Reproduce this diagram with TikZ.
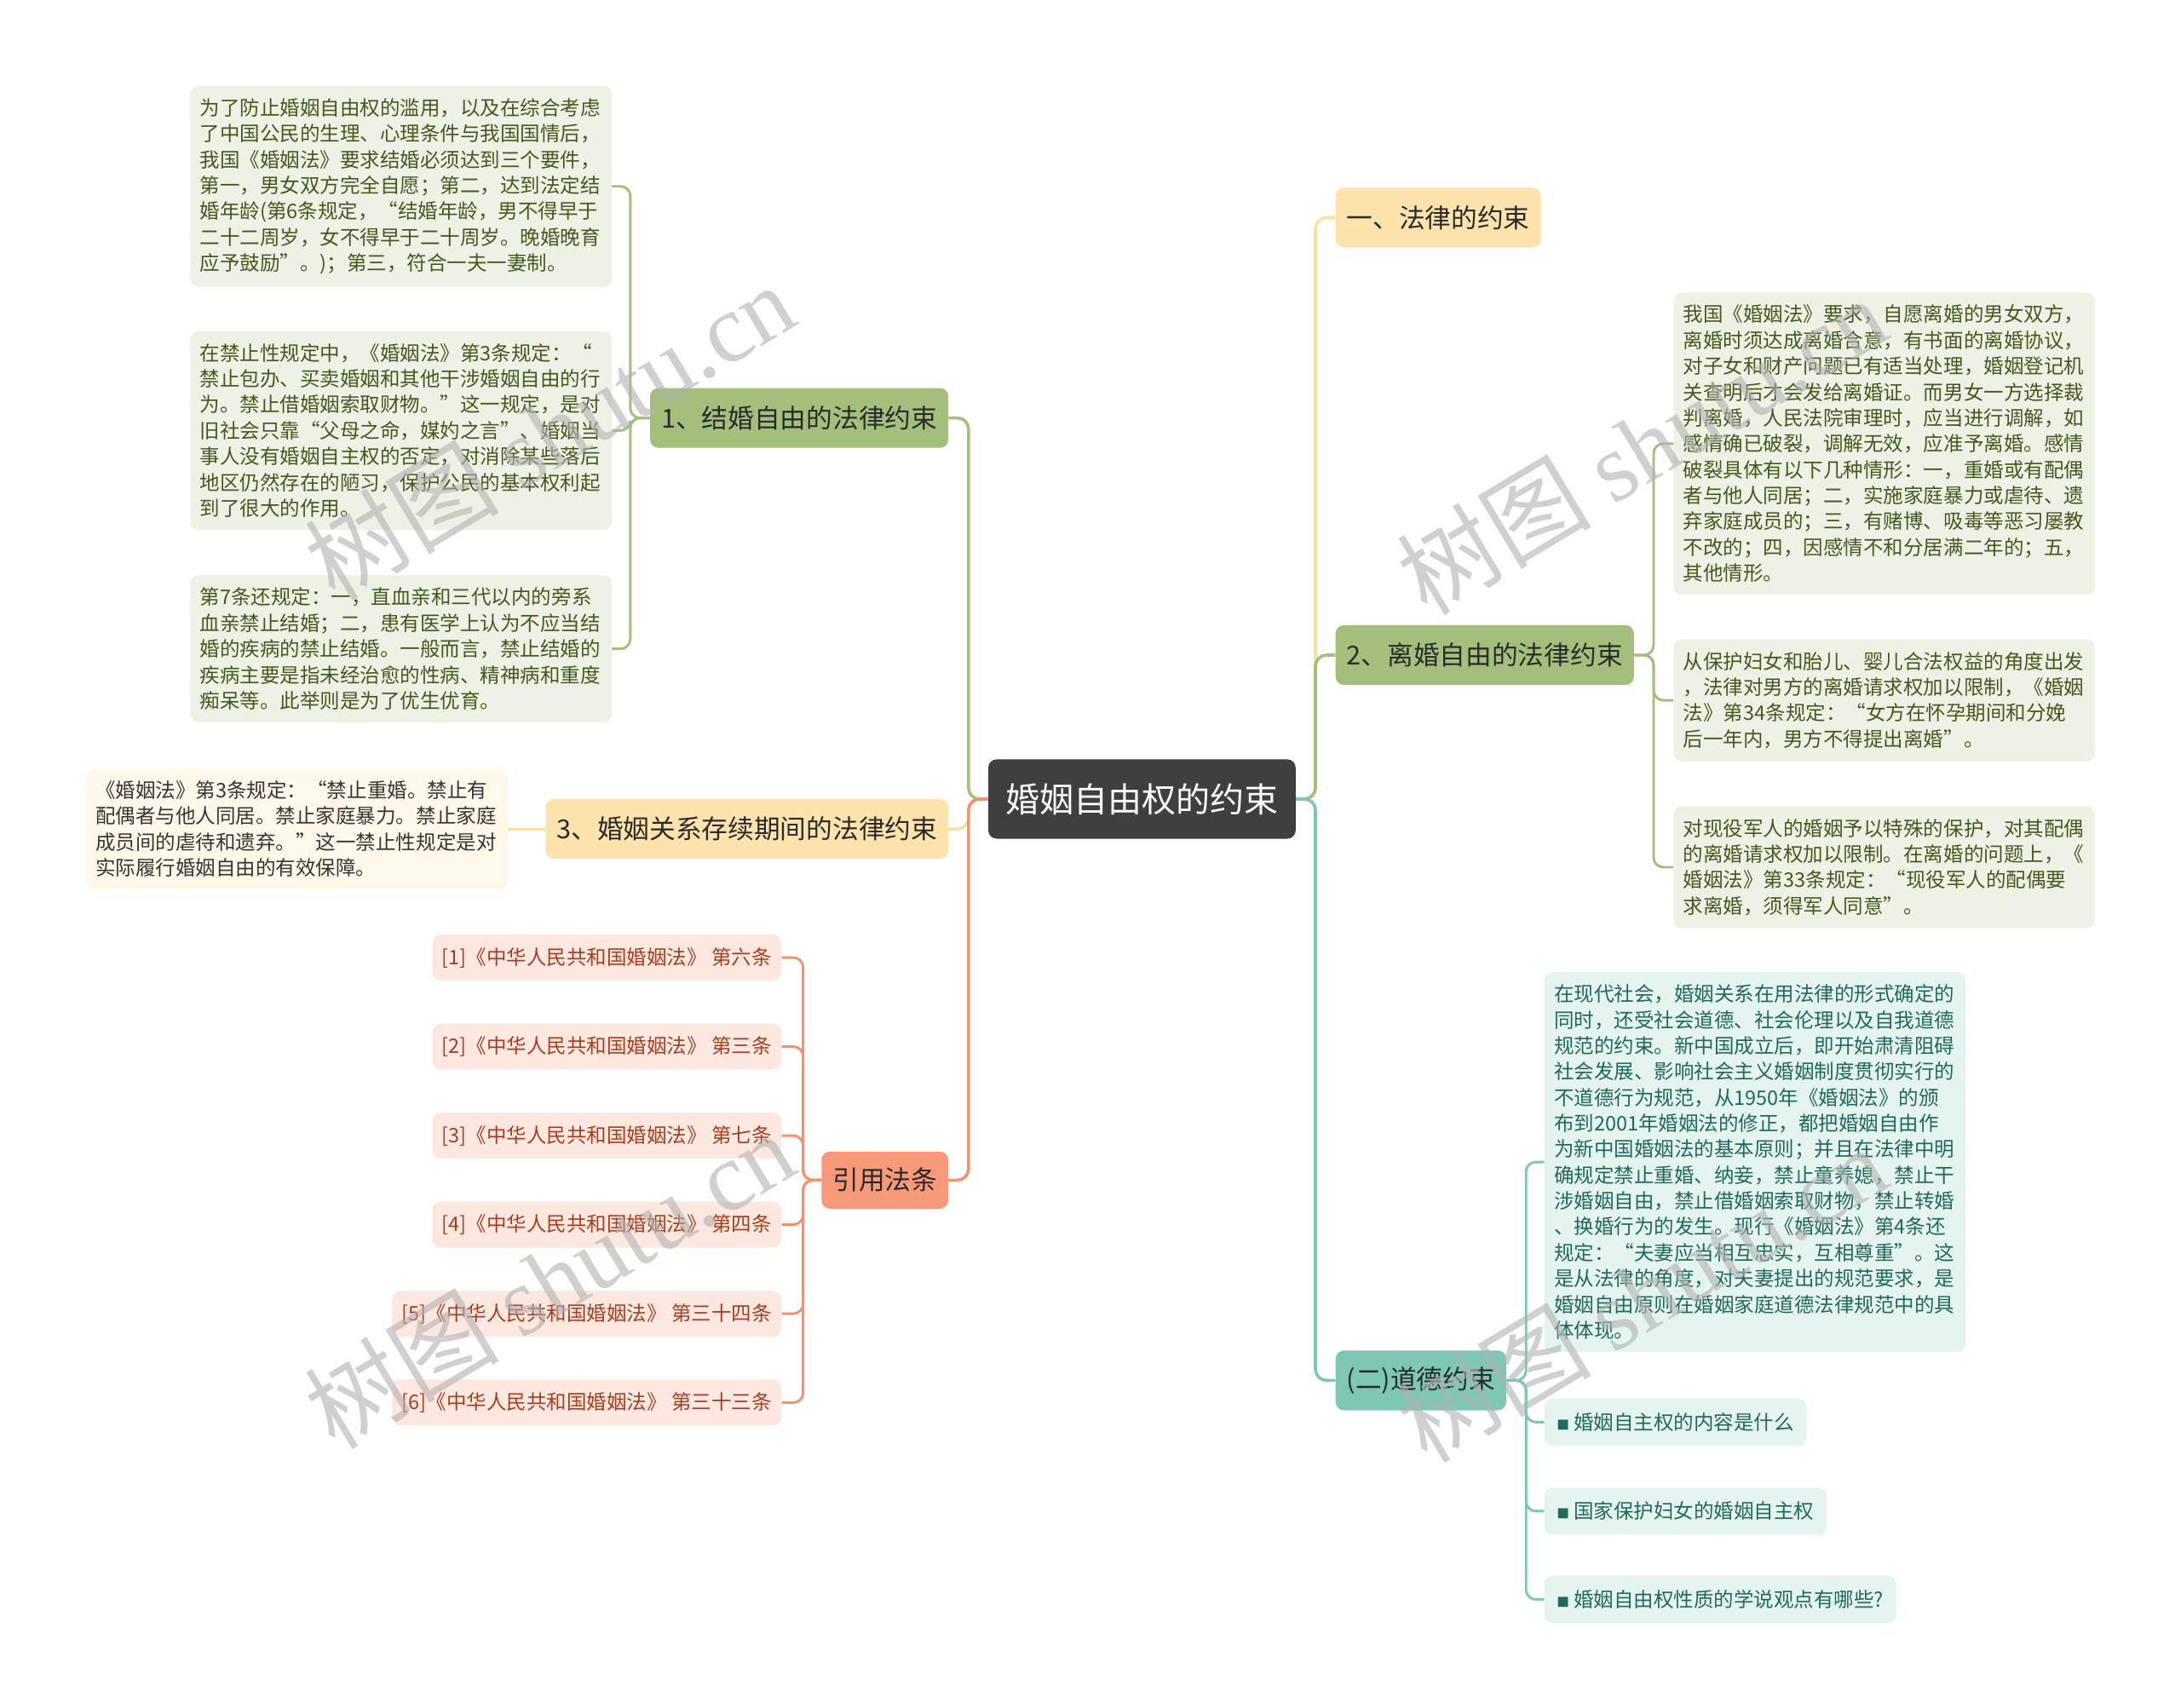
\documentclass[tikz,border=0pt]{standalone}
\usepackage{fontspec}
\setmainfont{Noto Sans CJK SC}
\newfontfamily\stamplatin{Liberation Serif}
\usetikzlibrary{positioning,calc}

\definecolor{rootgray}{HTML}{3F3F3F}
\definecolor{topictext}{HTML}{2A2A2A}
\definecolor{yellowfill}{HTML}{FFE3AC}
\definecolor{yellowline}{HTML}{FAE0A5}
\definecolor{greenfill}{HTML}{A4BE7B}
\definecolor{tealmain}{HTML}{7DC7B4}
\definecolor{salmon}{HTML}{F8997A}
\definecolor{salmonline}{HTML}{F2926F}
\definecolor{greennote}{HTML}{EEF2E6}
\definecolor{greentext}{HTML}{44591F}
\definecolor{tealnote}{HTML}{E5F4EF}
\definecolor{tealtext}{HTML}{21695A}
\definecolor{pinknote}{HTML}{FDE8E1}
\definecolor{pinktext}{HTML}{A63E1F}
\definecolor{creamnote}{HTML}{FFF8EB}
\definecolor{creamtext}{HTML}{353535}

\newcommand{\rootfont}{\fontsize{24.5}{28}\selectfont}
\newcommand{\topicfont}{\fontsize{18.8}{22}\selectfont}
\newcommand{\notefont}{\fontsize{14.4}{18.6}\selectfont}
\newcommand{\stampfont}{\fontsize{70}{70}\selectfont}
\newcommand{\tipsq}{{\fontsize{9}{9}\selectfont ■}\ }

\begin{document}
\begin{tikzpicture}[x=1pt, y=-1pt,
    core/.style={rectangle, rounded corners=6pt, fill=rootgray, text=white, font=\rootfont, minimum height=57pt, inner xsep=12.5pt},
    topic/.style={rectangle, rounded corners=6pt, text=topictext, font=\topicfont, minimum height=43pt, inner xsep=8pt},
    note/.style={rectangle, rounded corners=6pt, font=\notefont, text width=289pt, align=left, inner xsep=7pt, inner ysep=9pt},
    refbox/.style={rectangle, rounded corners=6pt, fill=pinknote, text=pinktext, font=\notefont, minimum height=33pt, inner xsep=7pt},
    tip/.style={rectangle, rounded corners=6pt, fill=tealnote, text=tealtext, font=\notefont, minimum height=34pt, inner xsep=9pt},
    link/.style={line width=2.2pt, rounded corners=8pt},
    twig/.style={line width=1.8pt, rounded corners=7pt},
    stamp/.style={text=black!30, opacity=0.6, rotate=31, font=\stampfont}
]
\fill[white] (0,0) rectangle (1568,1228);
\useasboundingbox (0,0) rectangle (1568,1228);

% Centre topic
\node[core] (freedom) at (821,574.5) {婚姻自由权的约束};

% Right branches
\node[topic, fill=yellowfill, anchor=west] (law) at (960,156.5) {一、法律的约束};
\node[topic, fill=greenfill, anchor=west] (divorce) at (960,471) {2、离婚自由的法律约束};
\node[topic, fill=tealmain, anchor=west] (moral) at (960,992.5) {(二)道德约束};

% Left branches
\node[topic, fill=greenfill, anchor=east] (marry) at (682,300.5) {1、结婚自由的法律约束};
\node[topic, fill=yellowfill, anchor=east] (duration) at (682,596) {3、婚姻关系存续期间的法律约束};
\node[topic, fill=salmon, anchor=east, minimum height=41pt] (articles) at (682,848.5) {引用法条};

% Notes on divorce
\node[note, fill=greennote, text=greentext, anchor=west] (divorceA) at (1203,319) {
我国《婚姻法》要求，自愿离婚的男女双方，\\
离婚时须达成离婚合意，有书面的离婚协议，\\
对子女和财产问题已有适当处理，婚姻登记机\\
关查明后才会发给离婚证。而男女一方选择裁\\
判离婚，人民法院审理时，应当进行调解，如\\
感情确已破裂，调解无效，应准予离婚。感情\\
破裂具体有以下几种情形：一，重婚或有配偶\\
者与他人同居；二，实施家庭暴力或虐待、遗\\
弃家庭成员的；三，有赌博、吸毒等恶习屡教\\
不改的；四，因感情不和分居满二年的；五，\\
其他情形。};
\node[note, fill=greennote, text=greentext, anchor=west] (divorceB) at (1203,503.5) {
从保护妇女和胎儿、婴儿合法权益的角度出发\\
，法律对男方的离婚请求权加以限制，《婚姻\\
法》第34条规定：“女方在怀孕期间和分娩\\
后一年内，男方不得提出离婚”。};
\node[note, fill=greennote, text=greentext, anchor=west] (divorceC) at (1203,623.5) {
对现役军人的婚姻予以特殊的保护，对其配偶\\
的离婚请求权加以限制。在离婚的问题上，《\\
婚姻法》第33条规定：“现役军人的配偶要\\
求离婚，须得军人同意”。};

% Notes on morality
\node[note, fill=tealnote, text=tealtext, anchor=west] (moralA) at (1110,835.5) {
在现代社会，婚姻关系在用法律的形式确定的\\
同时，还受社会道德、社会伦理以及自我道德\\
规范的约束。新中国成立后，即开始肃清阻碍\\
社会发展、影响社会主义婚姻制度贯彻实行的\\
不道德行为规范，从1950年《婚姻法》的颁\\
布到2001年婚姻法的修正，都把婚姻自由作\\
为新中国婚姻法的基本原则；并且在法律中明\\
确规定禁止重婚、纳妾，禁止童养媳，禁止干\\
涉婚姻自由，禁止借婚姻索取财物，禁止转婚\\
、换婚行为的发生。现行《婚姻法》第4条还\\
规定：“夫妻应当相互忠实，互相尊重”。这\\
是从法律的角度，对夫妻提出的规范要求，是\\
婚姻自由原则在婚姻家庭道德法律规范中的具\\
体体现。};
\node[tip, anchor=west] (moralB) at (1110,1022.5) {\tipsq 婚姻自主权的内容是什么};
\node[tip, anchor=west] (moralC) at (1110,1086.5) {\tipsq 国家保护妇女的婚姻自主权};
\node[tip, anchor=west] (moralD) at (1110,1150) {\tipsq 婚姻自由权性质的学说观点有哪些?};

% Notes on marriage
\node[note, fill=greennote, text=greentext, anchor=east] (marryA) at (440,134) {
为了防止婚姻自由权的滥用，以及在综合考虑\\
了中国公民的生理、心理条件与我国国情后，\\
我国《婚姻法》要求结婚必须达到三个要件，\\
第一，男女双方完全自愿；第二，达到法定结\\
婚年龄(第6条规定，“结婚年龄，男不得早于\\
二十二周岁，女不得早于二十周岁。晚婚晚育\\
应予鼓励”。)；第三，符合一夫一妻制。};
\node[note, fill=greennote, text=greentext, anchor=east] (marryB) at (440,309.5) {
在禁止性规定中，《婚姻法》第3条规定：“\\
禁止包办、买卖婚姻和其他干涉婚姻自由的行\\
为。禁止借婚姻索取财物。”这一规定，是对\\
旧社会只靠“父母之命，媒妁之言”、婚姻当\\
事人没有婚姻自主权的否定，对消除某些落后\\
地区仍然存在的陋习，保护公民的基本权利起\\
到了很大的作用。};
\node[note, fill=greennote, text=greentext, anchor=east] (marryC) at (440,466.5) {
第7条还规定：一，直血亲和三代以内的旁系\\
血亲禁止结婚；二，患有医学上认为不应当结\\
婚的疾病的禁止结婚。一般而言，禁止结婚的\\
疾病主要是指未经治愈的性病、精神病和重度\\
痴呆等。此举则是为了优生优育。};

% Note on the duration of marriage
\node[note, fill=creamnote, text=creamtext, anchor=east] (durationA) at (365,596) {
《婚姻法》第3条规定：“禁止重婚。禁止有\\
配偶者与他人同居。禁止家庭暴力。禁止家庭\\
成员间的虐待和遗弃。”这一禁止性规定是对\\
实际履行婚姻自由的有效保障。};

% Cited articles
\node[refbox, anchor=east] (ref1) at (562,688.5) {[1]《中华人民共和国婚姻法》 第六条};
\node[refbox, anchor=east] (ref2) at (562,752.5) {[2]《中华人民共和国婚姻法》 第三条};
\node[refbox, anchor=east] (ref3) at (562,816.5) {[3]《中华人民共和国婚姻法》 第七条};
\node[refbox, anchor=east] (ref4) at (562,880.5) {[4]《中华人民共和国婚姻法》 第四条};
\node[refbox, anchor=east] (ref5) at (562,944.5) {[5]《中华人民共和国婚姻法》 第三十四条};
\node[refbox, anchor=east] (ref6) at (562,1008.5) {[6]《中华人民共和国婚姻法》 第三十三条};

% Main connectors
\draw[link, yellowline] (freedom.east) -- ++(14,0) |- (law.west);
\draw[link, greenfill] (freedom.east) -- ++(14,0) |- (divorce.west);
\draw[link, tealmain] (freedom.east) -- ++(14,0) |- (moral.west);
\draw[link, greenfill] (freedom.west) -- ++(-14,0) |- (marry.east);
\draw[link, yellowline] (freedom.west) -- ++(-14,0) |- (duration.east);
\draw[link, salmonline] (freedom.west) -- ++(-14,0) |- (articles.east);

% Sub connectors
\foreach \n in {divorceA,divorceB,divorceC}
    \draw[twig, greenfill] (divorce.east) -- ++(14,0) |- (\n.west);
\foreach \n in {moralA,moralB,moralC,moralD}
    \draw[twig, tealmain] (moral.east) -- ++(14,0) |- (\n.west);
\foreach \n in {marryA,marryB,marryC}
    \draw[twig, greenfill] (marry.west) -- ++(-14,0) |- (\n.east);
\draw[twig, yellowline] (duration.west) -- (durationA.east);
\foreach \n in {1,...,6}
    \draw[twig, salmonline] (articles.west) -- ++(-13,0) |- (ref\n.east);

% Watermarks
\node[stamp] (stampA) at (395,310) {树图 {\stamplatin shutu.cn}};
\node[stamp] (stampB) at (1180,320) {树图 {\stamplatin shutu.cn}};
\node[stamp] (stampC) at (395,920) {树图 {\stamplatin shutu.cn}};
\node[stamp] (stampD) at (1180,930) {树图 {\stamplatin shutu.cn}};

\end{tikzpicture}
\end{document}
